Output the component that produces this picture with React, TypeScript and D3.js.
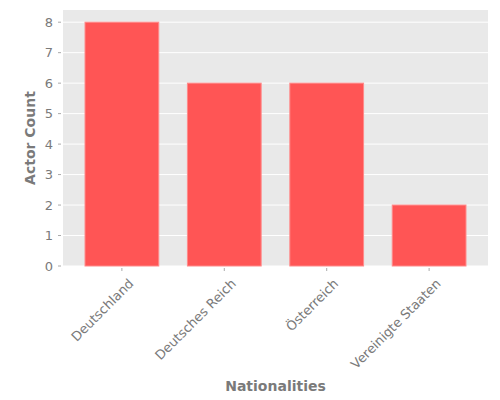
import React from "react";
import * as d3 from "d3";

const categories = ["Deutschland", "Deutsches Reich", "Österreich", "Vereinigte Staaten"];
const counts = [8, 6, 6, 2];
const yTicks = [0, 1, 2, 3, 4, 5, 6, 7, 8];
const xLabel = "Nationalities";
const yLabel = "Actor Count";

const W = 500;
const H = 400;
const M = { left: 63, right: 12, top: 10, bottom: 134 };

export default function App() {
  const pw = W - M.left - M.right;
  const ph = H - M.top - M.bottom;
  const x = d3.scaleLinear().domain([-0.575, categories.length - 1 + 0.575]).range([M.left, M.left + pw]);
  const y = d3.scaleLinear().domain([0, 8.4]).range([M.top + ph, M.top]);
  const barW = 0.72;
  const font = "DejaVu Sans, sans-serif";
  const textCol = "#7a7a7a";
  return (
    <div style={{ position: "absolute", left: 0, top: 0 }}>
      <svg width={W} height={H} style={{ display: "block" }}>
        <rect x={0} y={0} width={W} height={H} fill="#ffffff" />
        <rect x={M.left} y={M.top} width={pw} height={ph} fill="#E9E9E9" />
        {yTicks.map((t) => (
          <g key={t}>
            <line x1={M.left} x2={M.left + pw} y1={y(t)} y2={y(t)} stroke="#ffffff" strokeWidth={1} />
            <line x1={M.left - 5} x2={M.left - 2} y1={y(t)} y2={y(t)} stroke="#aaaaaa" strokeWidth={1} />
            <text x={M.left - 10} y={y(t)} dy="0.36em" textAnchor="end" fontFamily={font} fontSize={13} fill={textCol}>
              {t}
            </text>
          </g>
        ))}
        {categories.map((c, i) => (
          <rect
            key={c}
            x={x(i - barW / 2)}
            y={y(counts[i])}
            width={x(i + barW / 2) - x(i - barW / 2)}
            height={y(0) - y(counts[i])}
            fill="#FF5555"
            stroke="#FF8A8A"
            strokeWidth={1}
          />
        ))}
        {categories.map((c, i) => (
          <g key={c + "t"}>
            <line x1={x(i)} x2={x(i)} y1={M.top + ph + 2} y2={M.top + ph + 5} stroke="#aaaaaa" strokeWidth={1} />
            <text
              transform={`translate(${x(i) + 6},${M.top + ph + 12}) rotate(-45)`}
              textAnchor="end"
              dy="0.7em"
              fontFamily={font}
              fontSize={13}
              fill={textCol}
            >
              {c}
            </text>
          </g>
        ))}
        <text x={M.left + pw / 2} y={391} textAnchor="middle" fontFamily={font} fontSize={14} fontWeight="bold" fill={textCol}>
          {xLabel}
        </text>
        <text
          transform={`translate(35,${M.top + ph / 2}) rotate(-90)`}
          textAnchor="middle"
          fontFamily={font}
          fontSize={14}
          fontWeight="bold"
          fill={textCol}
        >
          {yLabel}
        </text>
      </svg>
    </div>
  );
}
